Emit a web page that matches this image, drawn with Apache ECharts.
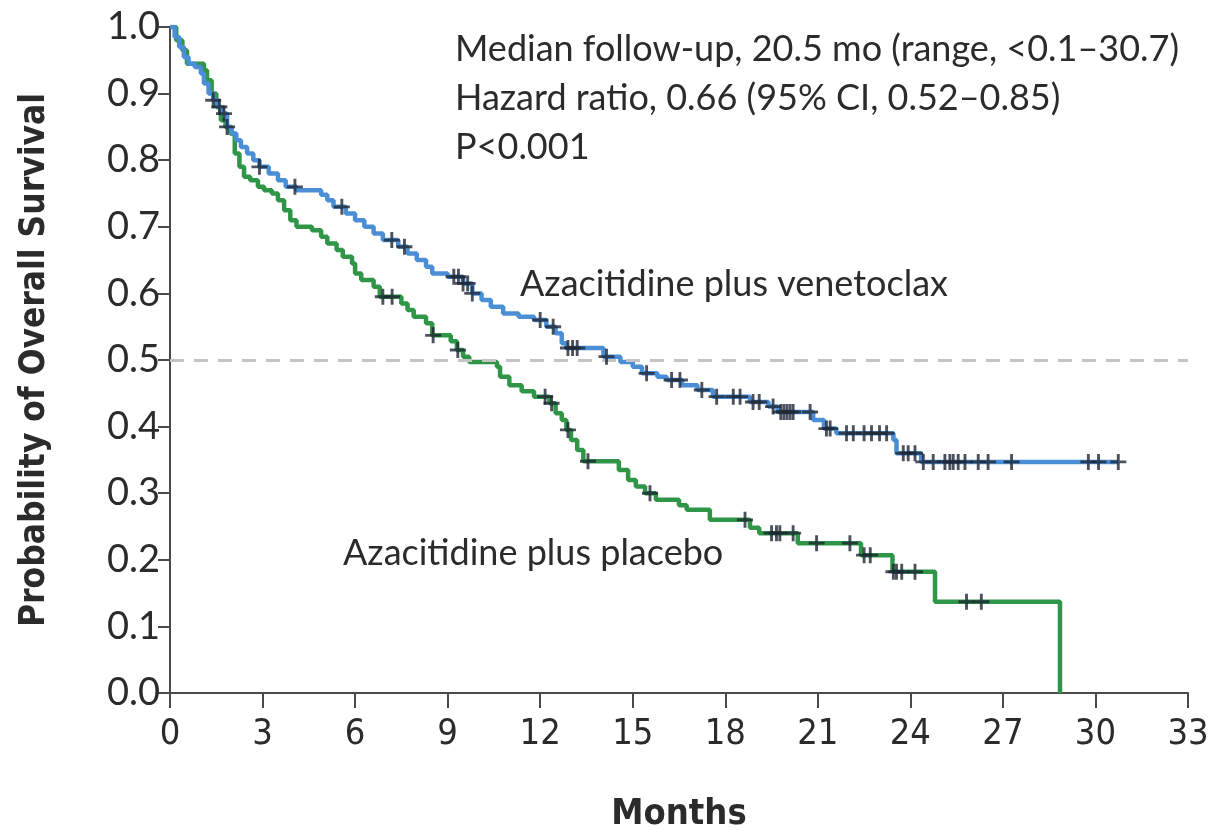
<!DOCTYPE html>
<html>
<head>
<meta charset="utf-8">
<script src="https://cdn.jsdelivr.net/npm/echarts@6/dist/echarts.min.js"></script>
<style>
html,body{margin:0;padding:0;background:#fff;}
#chart{width:1211px;height:830px;}
</style>
</head>
<body>
<div id="chart"></div>
<script>
// ---- Data ----
const xTicks = [0,3,6,9,12,15,18,21,24,27,30,33];
const yTicks = [0,0.1,0.2,0.3,0.4,0.5,0.6,0.7,0.8,0.9,1.0];

// Azacitidine plus venetoclax: step times (months) and survival after each step
const venTimes = [0,0.15,0.3,0.45,0.6,0.8,1.0,1.1,1.25,1.4,1.55,1.7,1.85,2.0,2.15,2.3,2.5,2.7,2.9,3.2,3.5,3.75,4.1,4.9,5.1,5.3,5.7,6.0,6.3,6.6,6.9,7.4,7.7,8.0,8.3,8.5,9.0,9.5,9.8,10.1,10.4,10.8,11.3,11.8,12.2,12.5,12.7,12.85,14.05,14.6,15.0,15.3,15.8,16.1,16.6,17.1,17.6,18.8,19.4,19.7,20.85,21.2,21.6,23.45,23.55,24.35,30.74];
const venSurv  = [1.0,0.985,0.97,0.955,0.945,0.94,0.93,0.915,0.9,0.89,0.88,0.87,0.85,0.84,0.83,0.82,0.81,0.80,0.79,0.78,0.77,0.76,0.755,0.748,0.74,0.73,0.72,0.71,0.70,0.69,0.68,0.67,0.66,0.65,0.64,0.63,0.625,0.615,0.6,0.59,0.58,0.57,0.565,0.56,0.55,0.54,0.525,0.518,0.505,0.497,0.49,0.48,0.475,0.47,0.462,0.455,0.445,0.437,0.43,0.422,0.41,0.397,0.39,0.38,0.36,0.347,0.347];
const venCensor = [1.4,1.6,1.75,1.85,2.9,4.05,5.57,7.19,7.6,9.2,9.35,9.5,9.65,9.8,12.0,12.42,12.9,13.05,13.2,14.15,15.45,16.26,16.53,17.24,17.72,18.26,18.48,18.9,19.1,19.55,19.8,19.9,20.0,20.1,20.2,20.75,21.28,21.4,21.93,22.15,22.5,22.74,23.0,23.23,23.77,23.93,24.15,24.42,24.74,25.12,25.28,25.39,25.55,25.77,26.2,26.52,27.28,29.77,30.1,30.74];

// Azacitidine plus placebo
const plaTimes = [0,0.2,0.4,0.55,1.1,1.2,1.35,1.5,1.65,1.8,1.95,2.1,2.25,2.4,2.6,2.85,3.05,3.3,3.5,3.7,3.9,4.1,4.6,4.9,5.1,5.4,5.6,5.9,6.0,6.2,6.6,6.8,7.5,7.7,7.9,8.3,8.5,9.1,9.3,9.5,9.7,10.6,10.7,11.0,11.4,11.8,12.3,12.5,12.7,12.85,13.0,13.2,13.4,14.55,14.85,15.1,15.4,15.75,16.5,16.75,17.5,18.8,19.1,20.35,22.4,23.42,24.8,28.85];
const plaSurv  = [1.0,0.98,0.965,0.945,0.935,0.92,0.90,0.88,0.86,0.85,0.84,0.81,0.79,0.775,0.77,0.76,0.755,0.75,0.74,0.725,0.71,0.70,0.695,0.685,0.675,0.665,0.655,0.645,0.63,0.62,0.61,0.595,0.585,0.575,0.565,0.555,0.537,0.528,0.515,0.505,0.497,0.49,0.475,0.462,0.453,0.445,0.435,0.42,0.41,0.395,0.38,0.365,0.348,0.335,0.32,0.31,0.30,0.29,0.282,0.275,0.26,0.248,0.24,0.225,0.207,0.182,0.137,0];
const plaCensor = [6.9,7.2,8.53,9.33,12.16,12.37,12.9,13.55,15.56,18.64,19.5,19.66,19.77,20.2,20.96,22.04,22.5,22.7,23.45,23.55,23.72,24.15,25.82,26.3];

const medianRef = 0.5;
const annotationLines = [
  'Median follow-up, 20.5 mo (range, <0.1\u201330.7)',
  'Hazard ratio, 0.66 (95% CI, 0.52\u20130.85)',
  'P<0.001'
];
const venLabel = 'Azacitidine plus venetoclax';
const plaLabel = 'Azacitidine plus placebo';
const xName = 'Months';
const yName = 'Probability of Overall Survival';

// ---- Build ----
function pairs(t, s){ return t.map((v,i)=>[v, s[i]]); }
function survAt(t, s, x){ let v = s[0]; for(let i=0;i<t.length;i++){ if(t[i] <= x) v = s[i]; else break; } return v; }
function censorPts(c, t, s){ return c.map(x => [x, survAt(t, s, x)]); }

const BLUE = '#4a8fd6', GREEN = '#2f9648', INK = '#1f2735', AX = '#4a4a4a', TXT = '#2b2b2b';
const plusPath = 'path://M4.1,0H5.9V10H4.1Z M0,4.1H10V5.9H0Z';
const tickFont = '"Liberation Sans Narrow", "DejaVu Sans Condensed", "Open Sans", sans-serif';
const textFont = 'Lato, "Open Sans", sans-serif';

const chart = echarts.init(document.getElementById('chart'), null, {renderer:'canvas'});
chart.setOption({
  animation: false,
  backgroundColor: '#ffffff',
  grid: {left: 170, right: 23, top: 27, bottom: 137, containLabel: false, outerBoundsMode: 'none'},
  xAxis: {
    type: 'value', min: 0, max: 33, interval: 3,
    axisLine: {show: true, lineStyle: {color: AX, width: 2}},
    axisTick: {show: true, length: 15, lineStyle: {color: AX, width: 2}},
    axisLabel: {color: TXT, fontSize: 36, fontFamily: tickFont, margin: 24,
      formatter: v => xTicks.includes(v) ? String(v) : ''},
    splitLine: {show: false},
    name: xName, nameLocation: 'middle', nameGap: 104,
    nameTextStyle: {color: TXT, fontSize: 36, fontWeight: 'bold', fontFamily: tickFont}
  },
  yAxis: {
    type: 'value', min: 0, max: 1, interval: 0.1,
    axisLine: {show: true, lineStyle: {color: AX, width: 2}},
    axisTick: {show: true, length: 12, lineStyle: {color: AX, width: 2}},
    axisLabel: {color: TXT, fontSize: 38, fontFamily: textFont, margin: 10,
      formatter: v => yTicks.some(y => Math.abs(y - v) < 1e-9) ? v.toFixed(1) : ''},
    splitLine: {show: false},
    name: yName, nameLocation: 'middle', nameGap: 118, nameRotate: 90,
    nameTextStyle: {color: TXT, fontSize: 35, fontWeight: 'bold', fontFamily: tickFont}
  },
  series: [
    {
      name: plaLabel, type: 'line', step: 'end', showSymbol: false, z: 2,
      data: pairs(plaTimes, plaSurv),
      lineStyle: {color: GREEN, width: 4.5}, itemStyle: {color: GREEN},
      markLine: {
        silent: true, symbol: 'none', label: {show: false},
        lineStyle: {color: '#c4c4c4', type: [14, 10], width: 3},
        data: [{yAxis: medianRef}]
      }
    },
    {
      name: venLabel, type: 'line', step: 'end', showSymbol: false, z: 3,
      data: pairs(venTimes, venSurv),
      lineStyle: {color: BLUE, width: 4.5}, itemStyle: {color: BLUE}
    },
    {
      type: 'scatter', z: 5, symbol: plusPath, symbolSize: 16,
      data: censorPts(plaCensor, plaTimes, plaSurv),
      itemStyle: {color: INK}
    },
    {
      type: 'scatter', z: 5, symbol: plusPath, symbolSize: 16,
      data: censorPts(venCensor, venTimes, venSurv),
      itemStyle: {color: INK}
    }
  ],
  graphic: [
    {type: 'text', x: 455, y: 49, style: {text: annotationLines[0], fill: TXT, font: '36px ' + textFont, verticalAlign: 'middle'}},
    {type: 'text', x: 455, y: 98, style: {text: annotationLines[1], fill: TXT, font: '36px ' + textFont, verticalAlign: 'middle'}},
    {type: 'text', x: 455, y: 147, style: {text: annotationLines[2], fill: TXT, font: '36px ' + textFont, verticalAlign: 'middle'}},
    {type: 'text', x: 520, y: 284, style: {text: venLabel, fill: TXT, font: '36px ' + textFont, verticalAlign: 'middle'}},
    {type: 'text', x: 343, y: 553, style: {text: plaLabel, fill: TXT, font: '36px ' + textFont, verticalAlign: 'middle'}}
  ]
});
</script>
</body>
</html>
